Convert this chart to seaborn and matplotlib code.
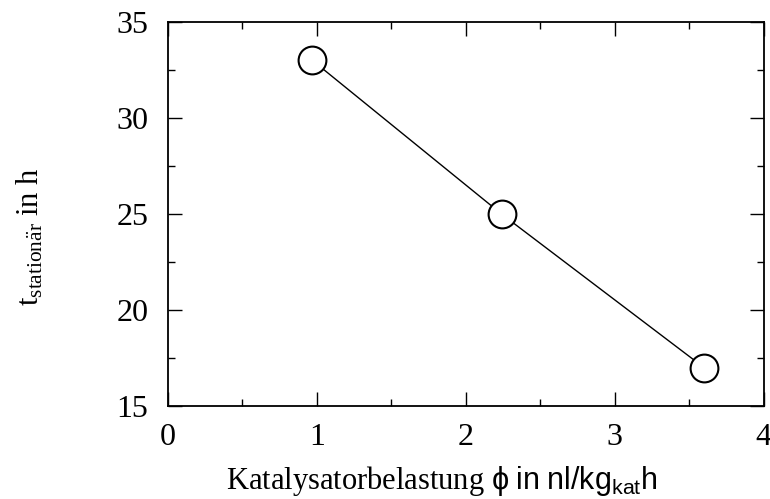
import matplotlib
matplotlib.use("Agg")
import matplotlib.pyplot as plt
from matplotlib.ticker import MultipleLocator
import seaborn as sns
import pandas as pd

# Messwerte
belastung = [0.97, 2.24, 3.60]
t_stationaer = [33.0, 25.0, 17.0]

df = pd.DataFrame({"phi": belastung, "t": t_stationaer})

sns.set_style("ticks")
plt.rcParams["font.family"] = ["Liberation Serif", "DejaVu Serif"]
plt.rcParams["mathtext.fontset"] = "custom"
plt.rcParams["mathtext.rm"] = "Liberation Serif"
plt.rcParams["mathtext.sf"] = "Liberation Sans"
plt.rcParams["mathtext.it"] = "Liberation Serif:italic"
for k in ["text.color", "axes.labelcolor", "xtick.color", "ytick.color", "axes.edgecolor"]:
    plt.rcParams[k] = "black"

fig = plt.figure(figsize=(7.7, 4.99), dpi=100)
ax = fig.add_axes([0.218, 0.186, 0.774, 0.770])

sns.lineplot(data=df, x="phi", y="t", color="black", linewidth=1.0,
             marker="o", markersize=20, markerfacecolor="white",
             markeredgecolor="black", markeredgewidth=1.5, ax=ax)

ax.set_xlim(0, 4)
ax.set_ylim(15, 35)
ax.xaxis.set_major_locator(MultipleLocator(1))
ax.xaxis.set_minor_locator(MultipleLocator(0.5))
ax.yaxis.set_major_locator(MultipleLocator(5))
ax.yaxis.set_minor_locator(MultipleLocator(2.5))
ax.tick_params(which="both", direction="in", top=True, right=True, width=1)
ax.tick_params(which="major", length=10, labelsize=23)
ax.tick_params(which="minor", length=5)
ax.tick_params(axis="y", pad=14)
ax.tick_params(axis="x", pad=12)
for s in ax.spines.values():
    s.set_linewidth(1.3)

ax.set_xlabel(r"Katalysatorbelastung $\mathsf{\phi\ in\ nl/kg_{kat}h}$", fontsize=22)
ax.set_ylabel(r"$\mathrm{t_{station\ddot{a}r}\ in\ h}$", fontsize=22)
ax.yaxis.set_label_coords(-0.205, 0.44)
ax.xaxis.set_label_coords(0.46, -0.15)

fig.savefig("out.png", dpi=100)
